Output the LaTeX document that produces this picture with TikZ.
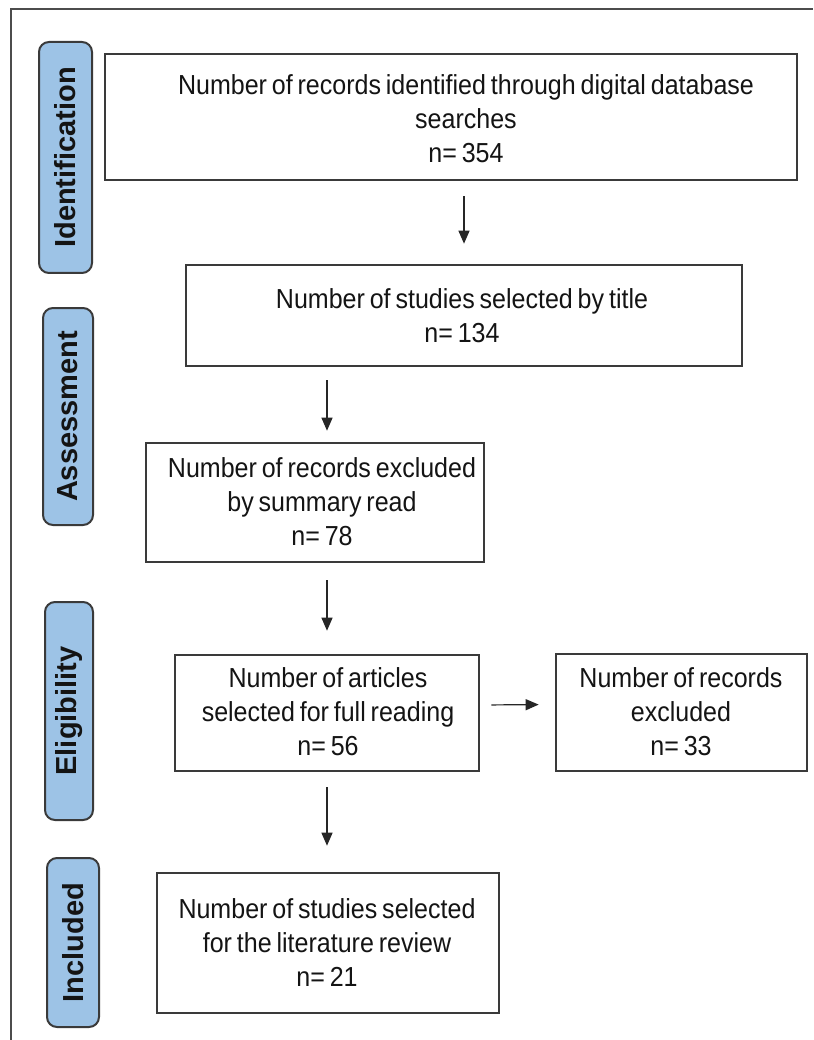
\documentclass[tikz,border=0pt]{standalone}
\usepackage{fontspec}
\setmainfont{Liberation Sans}[FakeStretch=0.91,WordSpace=0.7]
\newfontfamily\lblfont{Liberation Sans}
\usetikzlibrary{arrows.meta}
\definecolor{lblblue}{HTML}{9DC3E6}
\definecolor{edgegray}{HTML}{3A3A3A}
\begin{document}
\begin{tikzpicture}[x=1pt,y=-1pt,
  box/.style={draw=edgegray, line width=2.6pt, fill=white, inner sep=0pt},
  txt/.style={align=center, inner sep=0pt, font=\fontsize{27.5}{34}\selectfont, text=black!92},
  phase/.style={draw=edgegray, line width=2pt, fill=lblblue, rounded corners=10pt, rotate=90, inner sep=0pt,
    font=\lblfont\bfseries\fontsize{29}{32}\selectfont, text=black!92},
  arr/.style={-{Triangle[width=11pt,length=13pt]}, line width=1.2pt, draw=black!85},
  frame/.style={line width=1.2pt, draw=black!70}]
\useasboundingbox (0,0) rectangle (813,1040);
\draw[frame] (11,1040) -- (11,9) -- (813,9);

% phase labels
\node[phase, minimum width=231pt, minimum height=53pt] (p1) at (65.5,157.5) {Identification};
\node[phase, minimum width=217pt, minimum height=50pt] (p2) at (68,416.5) {Assessment};
\node[phase, minimum width=218pt, minimum height=48pt] (p3) at (69,711) {Eligibility};
\node[phase, minimum width=169pt, minimum height=52pt] (p4) at (73,942.5) {Included};

% boxes
\node[box, minimum width=692pt, minimum height=126pt] (b1) at (451,117) {};
\node[txt] (t1) at (466,118.5) {Number of records identified through digital database\\searches\\n= 354};

\node[box, minimum width=556pt, minimum height=101pt] (b2) at (464,315.5) {};
\node[txt] (t2) at (462,316) {Number of studies selected by title\\n= 134};

\node[box, minimum width=338pt, minimum height=119pt] (b3) at (315,502.5) {};
\node[txt] (t3) at (322,502) {Number of records excluded\\by summary read\\n= 78};

\node[box, minimum width=304pt, minimum height=116pt] (b4) at (327,713) {};
\node[txt] (t4) at (328,712) {Number of articles\\selected for full reading\\n= 56};

\node[box, minimum width=251pt, minimum height=117pt] (b5) at (681.5,712.5) {};
\node[txt] (t5) at (681,712) {Number of records\\excluded\\n= 33};

\node[box, minimum width=342pt, minimum height=140pt] (b6) at (328,943) {};
\node[txt] (t6) at (327,943) {Number of studies selected\\for the literature review\\n= 21};

% arrows
\draw[arr, shorten <=15pt, shorten >=20pt] (b1.south -| b2.north) -- (b2.north);
\draw[arr, shorten <=13pt, shorten >=11pt] (b2.south -| b4.north) -- (b3.north -| b4.north);
\draw[arr, shorten <=17pt, shorten >=23pt] (b3.south -| b4.north) -- (b4.north);
\draw[arr, shorten <=11pt, shorten >=16pt] ([yshift=8pt]b4.east) -- ([yshift=8pt]b5.west);
\draw[arr, shorten <=15pt, shorten >=26pt] (b4.south) -- (b6.north -| b4.south);
\end{tikzpicture}
\end{document}
